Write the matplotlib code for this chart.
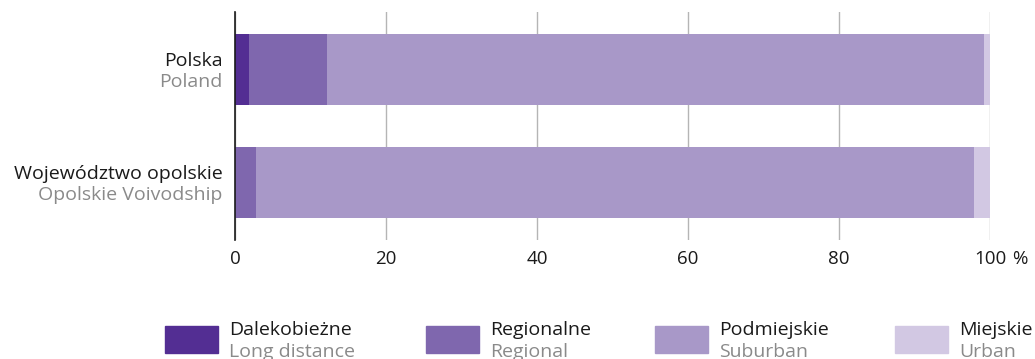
import matplotlib.pyplot as plt
from matplotlib.patches import Rectangle

# Dane, w %
regiony_pl = ['Polska', 'Województwo opolskie']
regiony_en = ['Poland', 'Opolskie Voivodship']
dalekobiezne = [1.9, 0.0]
regionalne = [10.3, 2.8]
podmiejskie = [87.0, 95.1]
miejskie = [0.8, 2.1]

kategorie_pl = ['Dalekobieżne', 'Regionalne', 'Podmiejskie', 'Miejskie']
kategorie_en = ['Long distance', 'Regional', 'Suburban', 'Urban']
kolory = ['#532e93', '#7f67ae', '#a898c8', '#d2c8e3']

plt.rcParams['font.family'] = ['Open Sans', 'DejaVu Sans']

fig = plt.figure(figsize=(10.35, 3.59), dpi=100)
ax = fig.add_axes([0.227, 0.331, 0.7295, 0.636])

pozycje = [1, 0]
serie = [dalekobiezne, regionalne, podmiejskie, miejskie]
lewo = [0.0, 0.0]
for wartosci, kolor in zip(serie, kolory):
    ax.barh(pozycje, wartosci, left=lewo, height=0.63, color=kolor, zorder=3)
    lewo = [a + b for a, b in zip(lewo, wartosci)]

ax.set_xlim(0, 100)
ax.set_ylim(-0.51, 1.51)
ax.set_xticks([0, 20, 40, 60, 80, 100])
ax.set_xticklabels(['0', '20', '40', '60', '80', '100'], fontsize=13.5, color='#1a1a1a')
ax.tick_params(axis='x', length=0, pad=7)
ax.set_yticks([])
ax.grid(axis='x', color='#b5b5b5', linewidth=1, zorder=0)
for s in ['top', 'right', 'bottom']:
    ax.spines[s].set_visible(False)
ax.spines['left'].set_color('#1a1a1a')
ax.spines['left'].set_linewidth(1.2)
ax.spines['left'].set_zorder(4)

# znak % przy 100
ax.annotate('%', xy=(100, 0), xycoords=('data', 'axes fraction'),
            xytext=(16, -7), textcoords='offset points',
            ha='left', va='top', fontsize=13.5, color='#1a1a1a')

# etykiety osi Y (dwujęzyczne)
for y, pl, en in zip(pozycje, regiony_pl, regiony_en):
    ax.annotate(pl, xy=(0, y), xycoords=('axes fraction', 'data'),
                xytext=(-9, 2.5), textcoords='offset points',
                ha='right', va='baseline', fontsize=14, color='#1a1a1a')
    ax.annotate(en, xy=(0, y), xycoords=('axes fraction', 'data'),
                xytext=(-9, -12.6), textcoords='offset points',
                ha='right', va='baseline', fontsize=14, color='#8a8a8a')

# legenda
leg_x = [165, 426, 655, 895]
W, H = 1035, 359
for x, pl, en, kolor in zip(leg_x, kategorie_pl, kategorie_en, kolory):
    fig.add_artist(Rectangle((x / W, 1 - 353 / H), 53 / W, 27 / H,
                             transform=fig.transFigure, color=kolor))
    fig.text((x + 64) / W, 1 - 335 / H, pl, ha='left', va='baseline',
             fontsize=14, color='#1a1a1a')
    fig.text((x + 64) / W, 1 - 357 / H, en, ha='left', va='baseline',
             fontsize=14, color='#8a8a8a')

plt.savefig('out.png', dpi=100)
